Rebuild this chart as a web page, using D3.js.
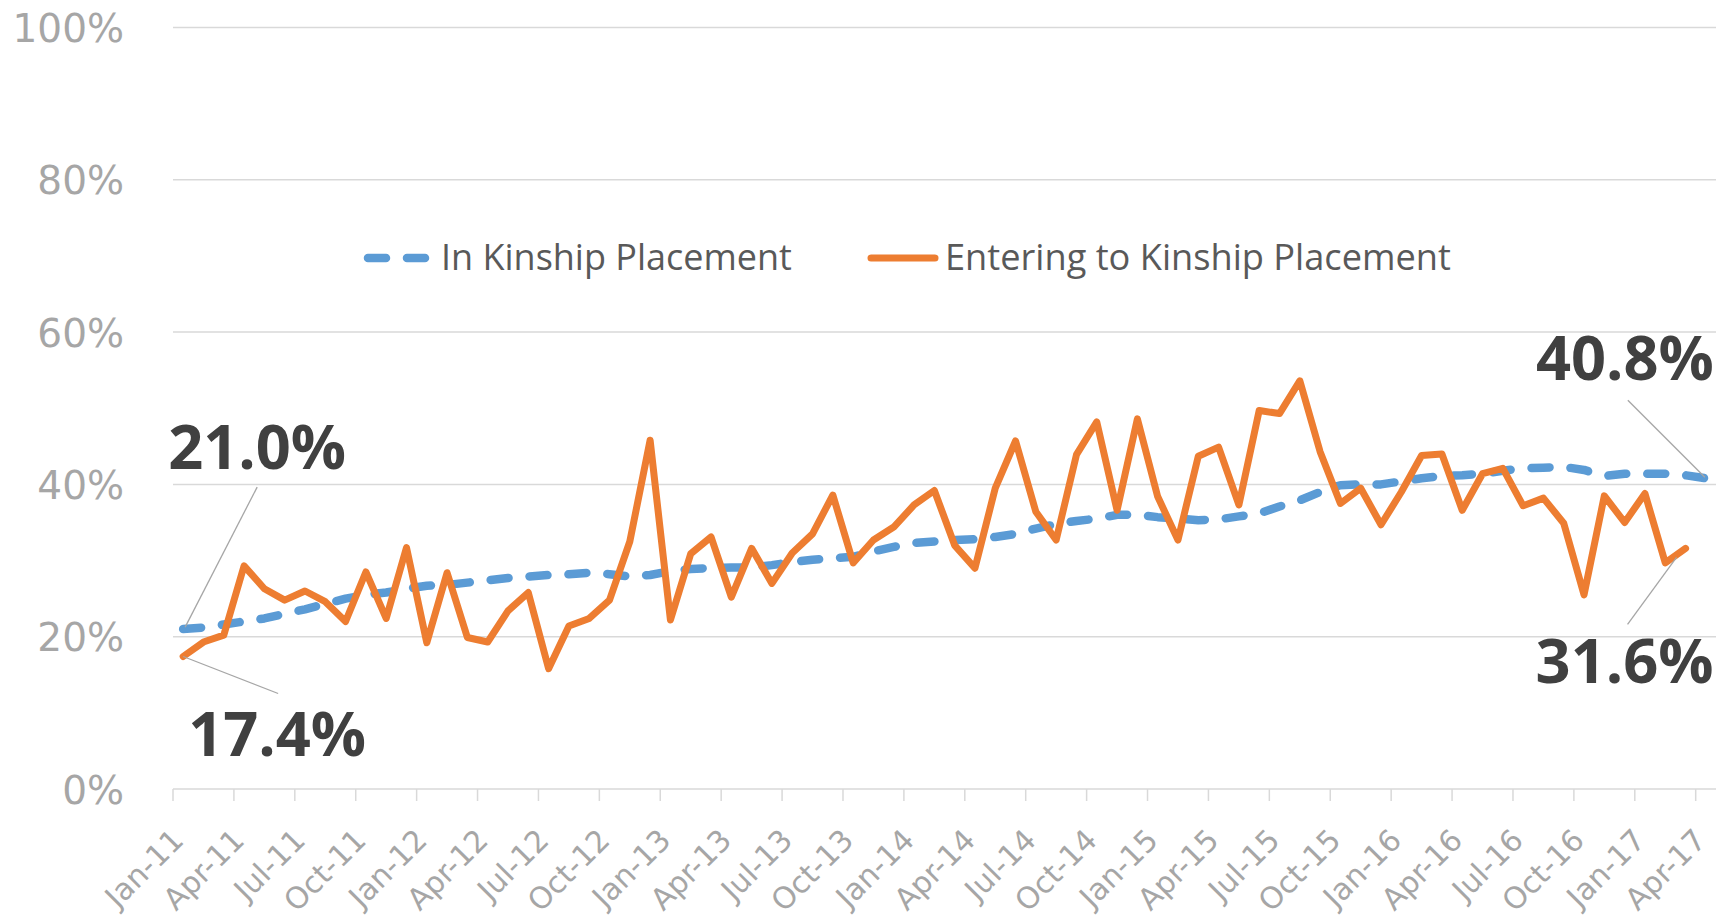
<!DOCTYPE html>
<html><head><meta charset="utf-8">
<script src="https://cdn.jsdelivr.net/npm/d3@7"></script>
<style>body{margin:0;background:#fff;} svg{display:block;}</style>
</head><body>
<svg id="chart" width="1730" height="920"></svg>
<script>
const categories = ["Jan-11","Feb-11","Mar-11","Apr-11","May-11","Jun-11","Jul-11","Aug-11","Sep-11","Oct-11","Nov-11","Dec-11",
"Jan-12","Feb-12","Mar-12","Apr-12","May-12","Jun-12","Jul-12","Aug-12","Sep-12","Oct-12","Nov-12","Dec-12",
"Jan-13","Feb-13","Mar-13","Apr-13","May-13","Jun-13","Jul-13","Aug-13","Sep-13","Oct-13","Nov-13","Dec-13",
"Jan-14","Feb-14","Mar-14","Apr-14","May-14","Jun-14","Jul-14","Aug-14","Sep-14","Oct-14","Nov-14","Dec-14",
"Jan-15","Feb-15","Mar-15","Apr-15","May-15","Jun-15","Jul-15","Aug-15","Sep-15","Oct-15","Nov-15","Dec-15",
"Jan-16","Feb-16","Mar-16","Apr-16","May-16","Jun-16","Jul-16","Aug-16","Sep-16","Oct-16","Nov-16","Dec-16",
"Jan-17","Feb-17","Mar-17","Apr-17"];
const tickLabels = ["Jan-11","Apr-11","Jul-11","Oct-11","Jan-12","Apr-12","Jul-12","Oct-12","Jan-13","Apr-13","Jul-13","Oct-13",
"Jan-14","Apr-14","Jul-14","Oct-14","Jan-15","Apr-15","Jul-15","Oct-15","Jan-16","Apr-16","Jul-16","Oct-16","Jan-17","Apr-17"];
const inKinship = [21.0,21.2,21.6,22.0,22.4,23.0,23.6,24.3,25.0,25.5,25.8,26.3,
26.7,26.8,27.1,27.4,27.7,27.9,28.1,28.2,28.4,28.2,27.9,28.1,
28.6,28.9,29.0,29.1,29.1,29.4,29.8,30.1,30.3,30.5,31.2,31.8,
32.3,32.5,32.7,32.8,33.1,33.5,34.2,34.8,35.2,35.5,36.0,36.0,
35.7,35.5,35.3,35.4,35.8,36.2,37.1,37.9,39.0,39.9,40.0,40.0,
40.4,40.8,41.1,41.2,41.4,41.8,42.1,42.2,42.3,41.9,41.1,41.4,
41.4,41.4,41.2,40.8];
const entering = [17.4,19.3,20.2,29.3,26.3,24.8,26.0,24.6,22.0,28.5,22.4,31.7,
19.2,28.4,19.9,19.3,23.4,25.8,15.8,21.4,22.4,24.8,32.5,45.8,
22.2,30.9,33.1,25.2,31.6,27.0,31.0,33.5,38.6,29.7,32.7,34.4,
37.3,39.2,32.0,29.0,39.5,45.7,36.4,32.7,43.9,48.2,36.6,48.6,
38.4,32.7,43.7,44.9,37.3,49.7,49.3,53.6,44.3,37.5,39.5,34.7,
39.0,43.8,44.0,36.6,41.4,42.1,37.2,38.2,34.9,25.5,38.5,35.0,
38.8,29.7,31.6];
const seriesNames = ["In Kinship Placement","Entering to Kinship Placement"];
const yTicks = [0,20,40,60,80,100];

const BLUE="#5B9BD5", ORANGE="#ED7D31", GRID="#d9d9d9";
const svg = d3.select("#chart");
const x = d3.scaleBand().domain(categories).range([173,1716]).padding(0);
const y = d3.scaleLinear().domain([0,100]).range([789,27.5]);
const cx = c => x(c) + x.bandwidth()/2;

// gridlines
svg.append("g").selectAll("line").data(yTicks.filter(d=>d>0)).join("line")
  .attr("x1",173).attr("x2",1716).attr("y1",d=>y(d)).attr("y2",d=>y(d))
  .attr("stroke",GRID).attr("stroke-width",1.5);

// y axis
const gy = svg.append("g").attr("transform","translate(124,0)")
  .call(d3.axisLeft(y).tickValues(yTicks).tickFormat(d=>d+"%").tickSize(0).tickPadding(0));
gy.select(".domain").remove();
gy.selectAll("text").attr("font-family","DejaVu Sans").attr("font-size",39)
  .attr("fill","#a6a6a6").attr("dy","0.36em");

// x axis line and ticks
svg.append("line").attr("x1",173).attr("x2",1716).attr("y1",y(0)).attr("y2",y(0))
  .attr("stroke",GRID).attr("stroke-width",1.5);
svg.append("g").selectAll("line").data(tickLabels).join("line")
  .attr("x1",d=>x(d)).attr("x2",d=>x(d)).attr("y1",y(0)).attr("y2",y(0)+12)
  .attr("stroke",GRID).attr("stroke-width",1.5);
const gx = svg.append("g").attr("transform",`translate(0,${y(0)})`)
  .call(d3.axisBottom(x).tickValues(tickLabels).tickSize(0));
gx.select(".domain").remove();
gx.selectAll("text").attr("font-family","DejaVu Sans").attr("font-size",30)
  .attr("fill","#a6a6a6").attr("text-anchor","end").attr("y",0).attr("dy",0)
  .attr("transform","translate(2,53) rotate(-45)");

// lines
const line = d3.line().x((d,i)=>cx(categories[i])).y(d=>y(d)).curve(d3.curveLinear);
svg.append("path").datum(inKinship).attr("d",line).attr("fill","none")
  .attr("stroke",BLUE).attr("stroke-width",8.5).attr("stroke-linecap","round")
  .attr("stroke-linejoin","round").attr("stroke-dasharray","18,21");
svg.append("path").datum(entering).attr("d",line).attr("fill","none")
  .attr("stroke",ORANGE).attr("stroke-width",7).attr("stroke-linecap","round")
  .attr("stroke-linejoin","round");

// legend
const lg = svg.append("g");
lg.append("line").attr("x1",368).attr("x2",432).attr("y1",258).attr("y2",258)
  .attr("stroke",BLUE).attr("stroke-width",8.5).attr("stroke-linecap","round").attr("stroke-dasharray","18,21");
lg.append("line").attr("x1",871).attr("x2",935).attr("y1",258).attr("y2",258)
  .attr("stroke",ORANGE).attr("stroke-width",7).attr("stroke-linecap","round");
function fit(t,w){const l=t.node().getComputedTextLength();const fs=parseFloat(t.attr("font-size"));t.attr("font-size",fs*w/l);return t;}
fit(lg.append("text").attr("x",441).attr("y",270).attr("font-family","Open Sans").attr("font-size",32)
  .attr("fill","#595959").text(seriesNames[0]),351);
fit(lg.append("text").attr("x",945).attr("y",270).attr("font-family","Open Sans").attr("font-size",32)
  .attr("fill","#595959").text(seriesNames[1]),506);

// data labels with leader lines
const fmt = v => v.toFixed(1)+"%";
const firstC = categories[0], lastB = categories[inKinship.length-1], lastO = categories[entering.length-1];
const labels = [
  {px:cx(firstC), py:y(inKinship[0]), v:inKinship[0], tx:-15, ty:-160, anchor:"start", l1:[74,-142], l2:[2,-2]},
  {px:cx(firstC), py:y(entering[0]), v:entering[0], tx:5, ty:100, anchor:"start", l1:[95,37], l2:[0,0]},
  {px:cx(lastB), py:y(inKinship[inKinship.length-1]), v:inKinship[inKinship.length-1], tx:8, ty:-98, anchor:"end", l1:[-78,-78], l2:[-1,-1]},
  {px:cx(lastO), py:y(entering[entering.length-1]), v:entering[entering.length-1], tx:28, ty:135, anchor:"end", l1:[-58,76], l2:[-9,9]}
];
const gl = svg.append("g");
labels.forEach(d=>{
  gl.append("line").attr("x1",d.px+d.l1[0]).attr("y1",d.py+d.l1[1]).attr("x2",d.px+d.l2[0]).attr("y2",d.py+d.l2[1])
    .attr("stroke","#a6a6a6").attr("stroke-width",1.3);
  const t = gl.append("text").attr("x",d.px+d.tx).attr("y",d.py+d.ty).attr("text-anchor",d.anchor)
    .attr("font-family","Open Sans").attr("font-weight",700).attr("font-size",60).attr("fill","#404040").text(fmt(d.v));
  fit(t,178);
});
</script>
</body></html>
